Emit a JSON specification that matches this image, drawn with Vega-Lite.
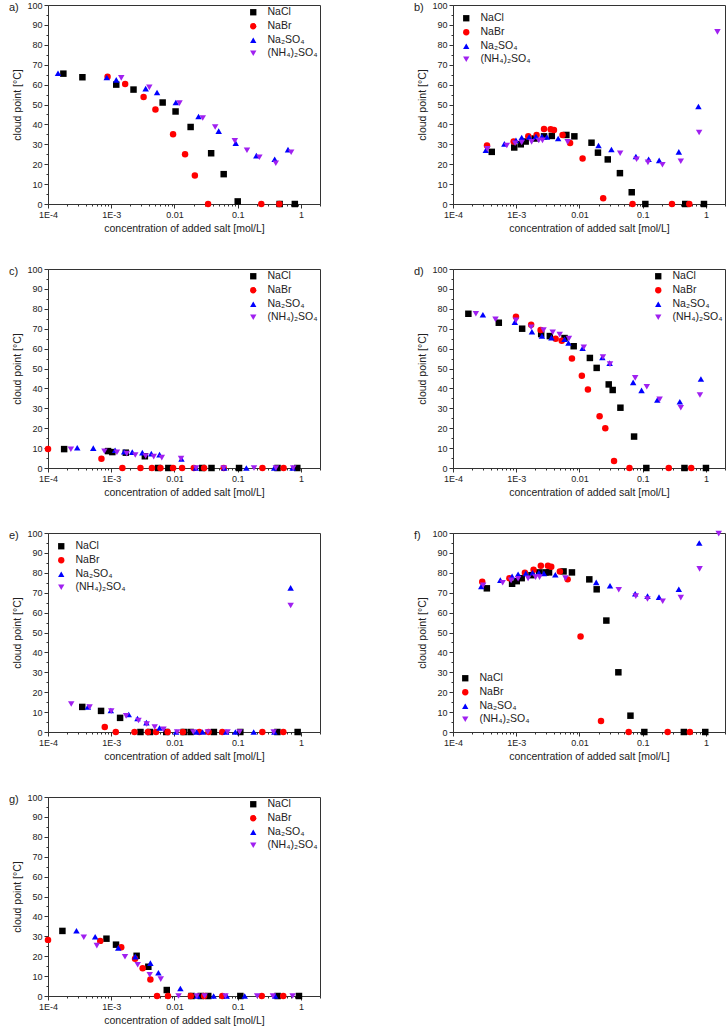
{
"$schema": "https://vega.github.io/schema/vega-lite/v6.json",
"padding": {"left": 8, "top": 0, "right": 2, "bottom": 4},
"config": {
 "view": {"stroke": "#333", "strokeWidth": 1},
 "axis": {"grid": false, "domainColor": "#333", "tickColor": "#333", "labelFont": "Liberation Sans", "titleFont": "Liberation Sans", "labelFontSize": 9, "titleFontSize": 10.5, "titleFontWeight": "normal", "labelColor": "#222", "titleColor": "#222", "tickSize": 4, "labelPadding": 2, "labelFlush": false, "labelOverlap": false, "titlePadding": 4},
 "legend": {"labelFont": "Liberation Sans", "labelFontSize": 10.5, "labelColor": "#222", "symbolSize": 40, "rowPadding": 1, "labelOffset": 9, "title": null},
 "title": {"font": "Liberation Sans", "fontSize": 11, "fontWeight": "normal", "anchor": "start", "frame": "bounds", "offset": -12, "color": "#222", "dx": -4},
 "point": {"filled": true, "opacity": 1, "clip": true, "size": 42}
},
"data": {"values": [
{"p":"a","s":"NaCl","c":0.000175,"t":65.5},{"p":"a","s":"NaCl","c":0.00035,"t":63.7},{"p":"a","s":"NaCl","c":0.0012,"t":60},{"p":"a","s":"NaCl","c":0.00225,"t":57.5},{"p":"a","s":"NaCl","c":0.0065,"t":51},{"p":"a","s":"NaCl","c":0.0104,"t":46.5},{"p":"a","s":"NaCl","c":0.018,"t":38.7},{"p":"a","s":"NaCl","c":0.038,"t":25.5},{"p":"a","s":"NaCl","c":0.06,"t":15},{"p":"a","s":"NaCl","c":0.1,"t":1.3},{"p":"a","s":"NaCl","c":0.46,"t":0},{"p":"a","s":"NaCl","c":0.8,"t":0},
{"p":"a","s":"NaBr","c":0.000875,"t":64},{"p":"a","s":"NaBr","c":0.00166,"t":60.3},{"p":"a","s":"NaBr","c":0.00325,"t":53.8},{"p":"a","s":"NaBr","c":0.005,"t":47.5},{"p":"a","s":"NaBr","c":0.0095,"t":35},{"p":"a","s":"NaBr","c":0.0147,"t":25},{"p":"a","s":"NaBr","c":0.021,"t":14.3},{"p":"a","s":"NaBr","c":0.034,"t":0},{"p":"a","s":"NaBr","c":0.236,"t":0},{"p":"a","s":"NaBr","c":0.455,"t":0},
{"p":"a","s":"Na₂SO₄","c":0.000144,"t":65.7},{"p":"a","s":"Na₂SO₄","c":0.00085,"t":63.6},{"p":"a","s":"Na₂SO₄","c":0.0012,"t":62.4},{"p":"a","s":"Na₂SO₄","c":0.0035,"t":58},{"p":"a","s":"Na₂SO₄","c":0.0053,"t":56},{"p":"a","s":"Na₂SO₄","c":0.0105,"t":51},{"p":"a","s":"Na₂SO₄","c":0.024,"t":44},{"p":"a","s":"Na₂SO₄","c":0.05,"t":36.6},{"p":"a","s":"Na₂SO₄","c":0.093,"t":30.6},{"p":"a","s":"Na₂SO₄","c":0.197,"t":24.3},{"p":"a","s":"Na₂SO₄","c":0.384,"t":22.5},{"p":"a","s":"Na₂SO₄","c":0.624,"t":27.3},
{"p":"a","s":"(NH₄)₂SO₄","c":0.00144,"t":63.4},{"p":"a","s":"(NH₄)₂SO₄","c":0.004,"t":58.6},{"p":"a","s":"(NH₄)₂SO₄","c":0.012,"t":50.7},{"p":"a","s":"(NH₄)₂SO₄","c":0.028,"t":43.2},{"p":"a","s":"(NH₄)₂SO₄","c":0.044,"t":38.7},{"p":"a","s":"(NH₄)₂SO₄","c":0.09,"t":31.7},{"p":"a","s":"(NH₄)₂SO₄","c":0.14,"t":27},{"p":"a","s":"(NH₄)₂SO₄","c":0.22,"t":23.5},{"p":"a","s":"(NH₄)₂SO₄","c":0.4,"t":20.5},{"p":"a","s":"(NH₄)₂SO₄","c":0.7,"t":26},

{"p":"b","s":"NaCl","c":0.00041,"t":26.2},{"p":"b","s":"NaCl","c":0.00093,"t":28.4},{"p":"b","s":"NaCl","c":0.00118,"t":30},{"p":"b","s":"NaCl","c":0.00141,"t":31.4},{"p":"b","s":"NaCl","c":0.00195,"t":32.9},{"p":"b","s":"NaCl","c":0.00275,"t":34},{"p":"b","s":"NaCl","c":0.00365,"t":34.2},{"p":"b","s":"NaCl","c":0.0062,"t":34.7},{"p":"b","s":"NaCl","c":0.0083,"t":34},{"p":"b","s":"NaCl","c":0.0155,"t":30.8},{"p":"b","s":"NaCl","c":0.0196,"t":25.8},{"p":"b","s":"NaCl","c":0.028,"t":22.4},{"p":"b","s":"NaCl","c":0.0436,"t":15.5},{"p":"b","s":"NaCl","c":0.067,"t":5.9},{"p":"b","s":"NaCl","c":0.11,"t":0},{"p":"b","s":"NaCl","c":0.47,"t":0},{"p":"b","s":"NaCl","c":0.93,"t":0},
{"p":"b","s":"NaBr","c":0.000345,"t":29.4},{"p":"b","s":"NaBr","c":0.00091,"t":31.4},{"p":"b","s":"NaBr","c":0.00155,"t":34},{"p":"b","s":"NaBr","c":0.0021,"t":34.7},{"p":"b","s":"NaBr","c":0.00275,"t":37.7},{"p":"b","s":"NaBr","c":0.0035,"t":37.6},{"p":"b","s":"NaBr","c":0.00395,"t":37.2},{"p":"b","s":"NaBr","c":0.0054,"t":34.7},{"p":"b","s":"NaBr","c":0.0071,"t":30.6},{"p":"b","s":"NaBr","c":0.0112,"t":22.9},{"p":"b","s":"NaBr","c":0.0237,"t":2.9},{"p":"b","s":"NaBr","c":0.069,"t":0},{"p":"b","s":"NaBr","c":0.29,"t":0},{"p":"b","s":"NaBr","c":0.545,"t":0},
{"p":"b","s":"Na₂SO₄","c":0.00033,"t":27},{"p":"b","s":"Na₂SO₄","c":0.00065,"t":30.2},{"p":"b","s":"Na₂SO₄","c":0.00099,"t":32},{"p":"b","s":"Na₂SO₄","c":0.00122,"t":33.4},{"p":"b","s":"Na₂SO₄","c":0.0016,"t":33.7},{"p":"b","s":"Na₂SO₄","c":0.00205,"t":33.9},{"p":"b","s":"Na₂SO₄","c":0.00255,"t":33.9},{"p":"b","s":"Na₂SO₄","c":0.00305,"t":33.7},{"p":"b","s":"Na₂SO₄","c":0.0046,"t":32.9},{"p":"b","s":"Na₂SO₄","c":0.02,"t":29.4},{"p":"b","s":"Na₂SO₄","c":0.032,"t":27.4},{"p":"b","s":"Na₂SO₄","c":0.078,"t":23.9},{"p":"b","s":"Na₂SO₄","c":0.124,"t":22.5},{"p":"b","s":"Na₂SO₄","c":0.182,"t":21.9},{"p":"b","s":"Na₂SO₄","c":0.372,"t":26.2},{"p":"b","s":"Na₂SO₄","c":0.76,"t":49},
{"p":"b","s":"(NH₄)₂SO₄","c":0.00035,"t":27.7},{"p":"b","s":"(NH₄)₂SO₄","c":0.00071,"t":29.4},{"p":"b","s":"(NH₄)₂SO₄","c":0.00096,"t":30.5},{"p":"b","s":"(NH₄)₂SO₄","c":0.00122,"t":30.9},{"p":"b","s":"(NH₄)₂SO₄","c":0.00175,"t":31.2},{"p":"b","s":"(NH₄)₂SO₄","c":0.00227,"t":31.9},{"p":"b","s":"(NH₄)₂SO₄","c":0.0026,"t":32},{"p":"b","s":"(NH₄)₂SO₄","c":0.0065,"t":31.2},{"p":"b","s":"(NH₄)₂SO₄","c":0.044,"t":25.5},{"p":"b","s":"(NH₄)₂SO₄","c":0.08,"t":22.5},{"p":"b","s":"(NH₄)₂SO₄","c":0.121,"t":20.9},{"p":"b","s":"(NH₄)₂SO₄","c":0.205,"t":19.7},{"p":"b","s":"(NH₄)₂SO₄","c":0.4,"t":21.5},{"p":"b","s":"(NH₄)₂SO₄","c":0.78,"t":35.9},{"p":"b","s":"(NH₄)₂SO₄","c":1.52,"t":86.5},

{"p":"c","s":"NaCl","c":0.00018,"t":9.5},{"p":"c","s":"NaCl","c":0.00089,"t":8.5},{"p":"c","s":"NaCl","c":0.00104,"t":8},{"p":"c","s":"NaCl","c":0.0017,"t":7.7},{"p":"c","s":"NaCl","c":0.0034,"t":5.9},{"p":"c","s":"NaCl","c":0.0055,"t":0},{"p":"c","s":"NaCl","c":0.008,"t":0},{"p":"c","s":"NaCl","c":0.0274,"t":0},{"p":"c","s":"NaCl","c":0.0385,"t":0},{"p":"c","s":"NaCl","c":0.105,"t":0},{"p":"c","s":"NaCl","c":0.426,"t":0},{"p":"c","s":"NaCl","c":0.875,"t":0},
{"p":"c","s":"NaBr","c":0.0001,"t":9.5},{"p":"c","s":"NaBr","c":0.0007,"t":4.7},{"p":"c","s":"NaBr","c":0.0015,"t":0},{"p":"c","s":"NaBr","c":0.0029,"t":0},{"p":"c","s":"NaBr","c":0.0044,"t":0},{"p":"c","s":"NaBr","c":0.006,"t":0},{"p":"c","s":"NaBr","c":0.0095,"t":0},{"p":"c","s":"NaBr","c":0.0132,"t":0},{"p":"c","s":"NaBr","c":0.0202,"t":0},{"p":"c","s":"NaBr","c":0.0294,"t":0},{"p":"c","s":"NaBr","c":0.06,"t":0},{"p":"c","s":"NaBr","c":0.246,"t":0},{"p":"c","s":"NaBr","c":0.531,"t":0},
{"p":"c","s":"Na₂SO₄","c":0.00029,"t":10.2},{"p":"c","s":"Na₂SO₄","c":0.00052,"t":10},{"p":"c","s":"Na₂SO₄","c":0.00115,"t":8.9},{"p":"c","s":"Na₂SO₄","c":0.0016,"t":8.2},{"p":"c","s":"Na₂SO₄","c":0.00215,"t":8},{"p":"c","s":"Na₂SO₄","c":0.0031,"t":7.7},{"p":"c","s":"Na₂SO₄","c":0.0043,"t":7.2},{"p":"c","s":"Na₂SO₄","c":0.0058,"t":6.7},{"p":"c","s":"Na₂SO₄","c":0.0129,"t":4.5},{"p":"c","s":"Na₂SO₄","c":0.0217,"t":0},{"p":"c","s":"Na₂SO₄","c":0.0613,"t":0},{"p":"c","s":"Na₂SO₄","c":0.137,"t":0},{"p":"c","s":"Na₂SO₄","c":0.377,"t":0},{"p":"c","s":"Na₂SO₄","c":0.738,"t":0},
{"p":"c","s":"(NH₄)₂SO₄","c":0.00023,"t":9.4},{"p":"c","s":"(NH₄)₂SO₄","c":0.00078,"t":8.4},{"p":"c","s":"(NH₄)₂SO₄","c":0.00123,"t":7.9},{"p":"c","s":"(NH₄)₂SO₄","c":0.00176,"t":7.2},{"p":"c","s":"(NH₄)₂SO₄","c":0.0024,"t":6.5},{"p":"c","s":"(NH₄)₂SO₄","c":0.0035,"t":6},{"p":"c","s":"(NH₄)₂SO₄","c":0.0047,"t":5.7},{"p":"c","s":"(NH₄)₂SO₄","c":0.0063,"t":5.2},{"p":"c","s":"(NH₄)₂SO₄","c":0.0127,"t":4.7},{"p":"c","s":"(NH₄)₂SO₄","c":0.022,"t":0},{"p":"c","s":"(NH₄)₂SO₄","c":0.06,"t":0},{"p":"c","s":"(NH₄)₂SO₄","c":0.181,"t":0},{"p":"c","s":"(NH₄)₂SO₄","c":0.401,"t":0},{"p":"c","s":"(NH₄)₂SO₄","c":0.755,"t":0},

{"p":"d","s":"NaCl","c":0.000175,"t":77.5},{"p":"d","s":"NaCl","c":0.00053,"t":73},{"p":"d","s":"NaCl","c":0.00124,"t":70},{"p":"d","s":"NaCl","c":0.00248,"t":67.3},{"p":"d","s":"NaCl","c":0.0034,"t":66.3},{"p":"d","s":"NaCl","c":0.0058,"t":65.3},{"p":"d","s":"NaCl","c":0.0081,"t":61.2},{"p":"d","s":"NaCl","c":0.0146,"t":55.3},{"p":"d","s":"NaCl","c":0.0187,"t":50.3},{"p":"d","s":"NaCl","c":0.029,"t":42},{"p":"d","s":"NaCl","c":0.0335,"t":39.2},{"p":"d","s":"NaCl","c":0.0444,"t":30.3},{"p":"d","s":"NaCl","c":0.073,"t":15.8},{"p":"d","s":"NaCl","c":0.114,"t":0},{"p":"d","s":"NaCl","c":0.457,"t":0},{"p":"d","s":"NaCl","c":1.0,"t":0},
{"p":"d","s":"NaBr","c":0.00099,"t":76},{"p":"d","s":"NaBr","c":0.00172,"t":72},{"p":"d","s":"NaBr","c":0.00243,"t":69.3},{"p":"d","s":"NaBr","c":0.0042,"t":65},{"p":"d","s":"NaBr","c":0.00524,"t":64},{"p":"d","s":"NaBr","c":0.0076,"t":55},{"p":"d","s":"NaBr","c":0.0109,"t":46.3},{"p":"d","s":"NaBr","c":0.0136,"t":39.5},{"p":"d","s":"NaBr","c":0.0208,"t":26},{"p":"d","s":"NaBr","c":0.0256,"t":20},{"p":"d","s":"NaBr","c":0.0352,"t":3.5},{"p":"d","s":"NaBr","c":0.0617,"t":0},{"p":"d","s":"NaBr","c":0.258,"t":0},{"p":"d","s":"NaBr","c":0.585,"t":0},
{"p":"d","s":"Na₂SO₄","c":0.000297,"t":77},{"p":"d","s":"Na₂SO₄","c":0.00095,"t":73.3},{"p":"d","s":"Na₂SO₄","c":0.00177,"t":68.5},{"p":"d","s":"Na₂SO₄","c":0.00255,"t":66.3},{"p":"d","s":"Na₂SO₄","c":0.0036,"t":65.5},{"p":"d","s":"Na₂SO₄","c":0.0058,"t":64.7},{"p":"d","s":"Na₂SO₄","c":0.0067,"t":62.8},{"p":"d","s":"Na₂SO₄","c":0.0112,"t":60.2},{"p":"d","s":"Na₂SO₄","c":0.023,"t":55.5},{"p":"d","s":"Na₂SO₄","c":0.03,"t":52.7},{"p":"d","s":"Na₂SO₄","c":0.0706,"t":43},{"p":"d","s":"Na₂SO₄","c":0.0958,"t":39},{"p":"d","s":"Na₂SO₄","c":0.17,"t":34.2},{"p":"d","s":"Na₂SO₄","c":0.386,"t":33.3},{"p":"d","s":"Na₂SO₄","c":0.832,"t":44.7},
{"p":"d","s":"(NH₄)₂SO₄","c":0.00023,"t":77.5},{"p":"d","s":"(NH₄)₂SO₄","c":0.00047,"t":74.7},{"p":"d","s":"(NH₄)₂SO₄","c":0.00099,"t":74.2},{"p":"d","s":"(NH₄)₂SO₄","c":0.00172,"t":70.7},{"p":"d","s":"(NH₄)₂SO₄","c":0.0027,"t":69.3},{"p":"d","s":"(NH₄)₂SO₄","c":0.00377,"t":68.2},{"p":"d","s":"(NH₄)₂SO₄","c":0.00487,"t":67},{"p":"d","s":"(NH₄)₂SO₄","c":0.0068,"t":65},{"p":"d","s":"(NH₄)₂SO₄","c":0.0117,"t":60.7},{"p":"d","s":"(NH₄)₂SO₄","c":0.0235,"t":55.8},{"p":"d","s":"(NH₄)₂SO₄","c":0.0304,"t":52.2},{"p":"d","s":"(NH₄)₂SO₄","c":0.076,"t":45.3},{"p":"d","s":"(NH₄)₂SO₄","c":0.116,"t":40.8},{"p":"d","s":"(NH₄)₂SO₄","c":0.185,"t":34.5},{"p":"d","s":"(NH₄)₂SO₄","c":0.4,"t":30.3},{"p":"d","s":"(NH₄)₂SO₄","c":0.803,"t":36.7},

{"p":"e","s":"NaCl","c":0.000348,"t":12.6},{"p":"e","s":"NaCl","c":0.00069,"t":10.6},{"p":"e","s":"NaCl","c":0.00138,"t":7.1},{"p":"e","s":"NaCl","c":0.0029,"t":0},{"p":"e","s":"NaCl","c":0.0041,"t":0},{"p":"e","s":"NaCl","c":0.0074,"t":0},{"p":"e","s":"NaCl","c":0.014,"t":0},{"p":"e","s":"NaCl","c":0.018,"t":0},{"p":"e","s":"NaCl","c":0.042,"t":0},{"p":"e","s":"NaCl","c":0.11,"t":0},{"p":"e","s":"NaCl","c":0.424,"t":0},{"p":"e","s":"NaCl","c":0.886,"t":0},
{"p":"e","s":"NaBr","c":0.00079,"t":2.5},{"p":"e","s":"NaBr","c":0.00118,"t":0},{"p":"e","s":"NaBr","c":0.00233,"t":0},{"p":"e","s":"NaBr","c":0.0038,"t":0},{"p":"e","s":"NaBr","c":0.0051,"t":0},{"p":"e","s":"NaBr","c":0.0078,"t":0},{"p":"e","s":"NaBr","c":0.0136,"t":0},{"p":"e","s":"NaBr","c":0.0247,"t":0},{"p":"e","s":"NaBr","c":0.0346,"t":0},{"p":"e","s":"NaBr","c":0.057,"t":0},{"p":"e","s":"NaBr","c":0.245,"t":0},{"p":"e","s":"NaBr","c":0.526,"t":0},
{"p":"e","s":"Na₂SO₄","c":0.000427,"t":12.6},{"p":"e","s":"Na₂SO₄","c":0.000985,"t":10.8},{"p":"e","s":"Na₂SO₄","c":0.00189,"t":8.8},{"p":"e","s":"Na₂SO₄","c":0.0026,"t":6.8},{"p":"e","s":"Na₂SO₄","c":0.0036,"t":4.7},{"p":"e","s":"Na₂SO₄","c":0.0058,"t":2},{"p":"e","s":"Na₂SO₄","c":0.0106,"t":0},{"p":"e","s":"Na₂SO₄","c":0.0224,"t":0},{"p":"e","s":"Na₂SO₄","c":0.0278,"t":0},{"p":"e","s":"Na₂SO₄","c":0.0656,"t":0},{"p":"e","s":"Na₂SO₄","c":0.092,"t":0},{"p":"e","s":"Na₂SO₄","c":0.179,"t":0},{"p":"e","s":"Na₂SO₄","c":0.38,"t":0},{"p":"e","s":"Na₂SO₄","c":0.687,"t":72.4},
{"p":"e","s":"(NH₄)₂SO₄","c":0.000233,"t":14.1},{"p":"e","s":"(NH₄)₂SO₄","c":0.000454,"t":12.5},{"p":"e","s":"(NH₄)₂SO₄","c":0.001,"t":10.5},{"p":"e","s":"(NH₄)₂SO₄","c":0.00172,"t":8.1},{"p":"e","s":"(NH₄)₂SO₄","c":0.0027,"t":5.8},{"p":"e","s":"(NH₄)₂SO₄","c":0.00364,"t":4},{"p":"e","s":"(NH₄)₂SO₄","c":0.00487,"t":2.5},{"p":"e","s":"(NH₄)₂SO₄","c":0.0067,"t":1.3},{"p":"e","s":"(NH₄)₂SO₄","c":0.011,"t":0},{"p":"e","s":"(NH₄)₂SO₄","c":0.0198,"t":0},{"p":"e","s":"(NH₄)₂SO₄","c":0.0337,"t":0},{"p":"e","s":"(NH₄)₂SO₄","c":0.069,"t":0},{"p":"e","s":"(NH₄)₂SO₄","c":0.107,"t":0},{"p":"e","s":"(NH₄)₂SO₄","c":0.37,"t":0},{"p":"e","s":"(NH₄)₂SO₄","c":0.687,"t":63.6},

{"p":"f","s":"NaCl","c":0.000343,"t":72.2},{"p":"f","s":"NaCl","c":0.00086,"t":74.5},{"p":"f","s":"NaCl","c":0.00102,"t":75.8},{"p":"f","s":"NaCl","c":0.00122,"t":77.3},{"p":"f","s":"NaCl","c":0.00174,"t":78.8},{"p":"f","s":"NaCl","c":0.0023,"t":80.2},{"p":"f","s":"NaCl","c":0.0029,"t":80.2},{"p":"f","s":"NaCl","c":0.0033,"t":80.2},{"p":"f","s":"NaCl","c":0.0056,"t":80.7},{"p":"f","s":"NaCl","c":0.0076,"t":80.2},{"p":"f","s":"NaCl","c":0.0143,"t":76.7},{"p":"f","s":"NaCl","c":0.0187,"t":71.7},{"p":"f","s":"NaCl","c":0.0266,"t":56},{"p":"f","s":"NaCl","c":0.0412,"t":30},{"p":"f","s":"NaCl","c":0.064,"t":8.2},{"p":"f","s":"NaCl","c":0.106,"t":0},{"p":"f","s":"NaCl","c":0.447,"t":0},{"p":"f","s":"NaCl","c":0.975,"t":0},
{"p":"f","s":"NaBr","c":0.00029,"t":75.5},{"p":"f","s":"NaBr","c":0.00078,"t":77.3},{"p":"f","s":"NaBr","c":0.00137,"t":80},{"p":"f","s":"NaBr","c":0.00188,"t":81.5},{"p":"f","s":"NaBr","c":0.00245,"t":83.5},{"p":"f","s":"NaBr","c":0.00317,"t":83.5},{"p":"f","s":"NaBr","c":0.00358,"t":83},{"p":"f","s":"NaBr","c":0.0049,"t":80.7},{"p":"f","s":"NaBr","c":0.0065,"t":76.7},{"p":"f","s":"NaBr","c":0.0104,"t":48},{"p":"f","s":"NaBr","c":0.0219,"t":5.5},{"p":"f","s":"NaBr","c":0.06,"t":0},{"p":"f","s":"NaBr","c":0.248,"t":0},{"p":"f","s":"NaBr","c":0.556,"t":0},
{"p":"f","s":"Na₂SO₄","c":0.00028,"t":73.2},{"p":"f","s":"Na₂SO₄","c":0.00056,"t":76.3},{"p":"f","s":"Na₂SO₄","c":0.00086,"t":78.2},{"p":"f","s":"Na₂SO₄","c":0.00107,"t":79.3},{"p":"f","s":"Na₂SO₄","c":0.00142,"t":79.7},{"p":"f","s":"Na₂SO₄","c":0.00181,"t":80},{"p":"f","s":"Na₂SO₄","c":0.00228,"t":80},{"p":"f","s":"Na₂SO₄","c":0.00274,"t":79.7},{"p":"f","s":"Na₂SO₄","c":0.00415,"t":79},{"p":"f","s":"Na₂SO₄","c":0.0184,"t":75.2},{"p":"f","s":"Na₂SO₄","c":0.0304,"t":73.5},{"p":"f","s":"Na₂SO₄","c":0.076,"t":69.5},{"p":"f","s":"Na₂SO₄","c":0.119,"t":68.3},{"p":"f","s":"Na₂SO₄","c":0.181,"t":67.8},{"p":"f","s":"Na₂SO₄","c":0.372,"t":71.7},{"p":"f","s":"Na₂SO₄","c":0.783,"t":95},
{"p":"f","s":"(NH₄)₂SO₄","c":0.0003,"t":73.7},{"p":"f","s":"(NH₄)₂SO₄","c":0.00061,"t":75},{"p":"f","s":"(NH₄)₂SO₄","c":0.00083,"t":76.2},{"p":"f","s":"(NH₄)₂SO₄","c":0.00107,"t":77},{"p":"f","s":"(NH₄)₂SO₄","c":0.00154,"t":77.2},{"p":"f","s":"(NH₄)₂SO₄","c":0.00202,"t":77.8},{"p":"f","s":"(NH₄)₂SO₄","c":0.00234,"t":77.8},{"p":"f","s":"(NH₄)₂SO₄","c":0.006,"t":77.3},{"p":"f","s":"(NH₄)₂SO₄","c":0.0418,"t":71.5},{"p":"f","s":"(NH₄)₂SO₄","c":0.0778,"t":68.3},{"p":"f","s":"(NH₄)₂SO₄","c":0.119,"t":66.8},{"p":"f","s":"(NH₄)₂SO₄","c":0.207,"t":65.7},{"p":"f","s":"(NH₄)₂SO₄","c":0.4,"t":67.5},{"p":"f","s":"(NH₄)₂SO₄","c":0.793,"t":82},{"p":"f","s":"(NH₄)₂SO₄","c":1.59,"t":99.7},

{"p":"g","s":"NaCl","c":0.000169,"t":32.7},{"p":"g","s":"NaCl","c":0.00084,"t":28.8},{"p":"g","s":"NaCl","c":0.00119,"t":25.8},{"p":"g","s":"NaCl","c":0.00252,"t":20.2},{"p":"g","s":"NaCl","c":0.00386,"t":14.7},{"p":"g","s":"NaCl","c":0.00755,"t":3},{"p":"g","s":"NaCl","c":0.0186,"t":0},{"p":"g","s":"NaCl","c":0.026,"t":0},{"p":"g","s":"NaCl","c":0.0342,"t":0},{"p":"g","s":"NaCl","c":0.11,"t":0},{"p":"g","s":"NaCl","c":0.427,"t":0},{"p":"g","s":"NaCl","c":0.93,"t":0},
{"p":"g","s":"NaBr","c":0.0001,"t":28.2},{"p":"g","s":"NaBr","c":0.00067,"t":27.7},{"p":"g","s":"NaBr","c":0.00144,"t":24.5},{"p":"g","s":"NaBr","c":0.00238,"t":18.7},{"p":"g","s":"NaBr","c":0.00314,"t":14},{"p":"g","s":"NaBr","c":0.00416,"t":8.3},{"p":"g","s":"NaBr","c":0.0053,"t":0},{"p":"g","s":"NaBr","c":0.0079,"t":0},{"p":"g","s":"NaBr","c":0.0181,"t":0},{"p":"g","s":"NaBr","c":0.0294,"t":0},{"p":"g","s":"NaBr","c":0.0571,"t":0},{"p":"g","s":"NaBr","c":0.24,"t":0},{"p":"g","s":"NaBr","c":0.525,"t":0},
{"p":"g","s":"Na₂SO₄","c":0.000282,"t":32.8},{"p":"g","s":"Na₂SO₄","c":0.000557,"t":29.8},{"p":"g","s":"Na₂SO₄","c":0.00129,"t":24.2},{"p":"g","s":"Na₂SO₄","c":0.0024,"t":19.8},{"p":"g","s":"Na₂SO₄","c":0.00416,"t":16.5},{"p":"g","s":"Na₂SO₄","c":0.00557,"t":11.7},{"p":"g","s":"Na₂SO₄","c":0.0124,"t":3.8},{"p":"g","s":"Na₂SO₄","c":0.023,"t":0},{"p":"g","s":"Na₂SO₄","c":0.0416,"t":0},{"p":"g","s":"Na₂SO₄","c":0.067,"t":0},{"p":"g","s":"Na₂SO₄","c":0.129,"t":0},{"p":"g","s":"Na₂SO₄","c":0.392,"t":0},
{"p":"g","s":"(NH₄)₂SO₄","c":0.000368,"t":29.5},{"p":"g","s":"(NH₄)₂SO₄","c":0.000592,"t":25.3},{"p":"g","s":"(NH₄)₂SO₄","c":0.00165,"t":19.7},{"p":"g","s":"(NH₄)₂SO₄","c":0.00262,"t":15.7},{"p":"g","s":"(NH₄)₂SO₄","c":0.00406,"t":10.7},{"p":"g","s":"(NH₄)₂SO₄","c":0.00607,"t":8.5},{"p":"g","s":"(NH₄)₂SO₄","c":0.0116,"t":0},{"p":"g","s":"(NH₄)₂SO₄","c":0.0226,"t":0},{"p":"g","s":"(NH₄)₂SO₄","c":0.03,"t":0},{"p":"g","s":"(NH₄)₂SO₄","c":0.064,"t":0},{"p":"g","s":"(NH₄)₂SO₄","c":0.203,"t":0},{"p":"g","s":"(NH₄)₂SO₄","c":0.36,"t":0},{"p":"g","s":"(NH₄)₂SO₄","c":0.738,"t":0}
]},
"columns": 2,
"spacing": {"row": 30, "column": 92},
"resolve": {"scale": {"color": "independent", "shape": "independent"}, "legend": {"color": "independent", "shape": "independent"}},
"concat": [
{"title": "a)", "width": 272, "height": 199, "transform": [{"filter": "datum.p === 'a'"}],
 "mark": "point",
 "encoding": {
  "x": {"field": "c", "type": "quantitative", "scale": {"type": "log", "domain": [0.0001, 2]}, "axis": {"title": "concentration of added salt [mol/L]", "values": [0.0001,0.0002,0.0003,0.0004,0.0005,0.0006,0.0007,0.0008,0.0009,0.001,0.002,0.003,0.004,0.005,0.006,0.007,0.008,0.009,0.01,0.02,0.03,0.04,0.05,0.06,0.07,0.08,0.09,0.1,0.2,0.3,0.4,0.5,0.6,0.7,0.8,0.9,1,2], "labelExpr": "datum.value === 0.0001 ? '1E-4' : datum.value === 0.001 ? '1E-3' : datum.value === 0.01 ? '0.01' : datum.value === 0.1 ? '0.1' : datum.value === 1 ? '1' : ''", "tickSize": {"condition": {"test": "datum.value === 0.0001 || datum.value === 0.001 || datum.value === 0.01 || datum.value === 0.1 || datum.value === 1", "value": 4}, "value": 2}}},
  "y": {"field": "t", "type": "quantitative", "scale": {"domain": [0, 100]}, "axis": {"title": "cloud point [°C]", "values": [0,5,10,15,20,25,30,35,40,45,50,55,60,65,70,75,80,85,90,95,100], "labelExpr": "datum.value % 10 === 0 ? datum.label : ''", "tickSize": {"condition": {"test": "datum.value % 10 === 0", "value": 4}, "value": 2}}},
  "color": {"field": "s", "type": "nominal", "scale": {"domain": ["NaCl","NaBr","Na₂SO₄","(NH₄)₂SO₄"], "range": ["#000000","#ff0000","#0000ff","#a020f0"]}, "legend": {"orient": "top-right", "offset": 2}},
  "shape": {"field": "s", "type": "nominal", "scale": {"domain": ["NaCl","NaBr","Na₂SO₄","(NH₄)₂SO₄"], "range": ["square","circle","triangle-up","triangle-down"]}, "legend": {"orient": "top-right", "offset": 2}}
 }},
{"title": "b)", "width": 272, "height": 199, "transform": [{"filter": "datum.p === 'b'"}],
 "mark": "point",
 "encoding": {
  "x": {"field": "c", "type": "quantitative", "scale": {"type": "log", "domain": [0.0001, 2]}, "axis": {"title": "concentration of added salt [mol/L]", "values": [0.0001,0.0002,0.0003,0.0004,0.0005,0.0006,0.0007,0.0008,0.0009,0.001,0.002,0.003,0.004,0.005,0.006,0.007,0.008,0.009,0.01,0.02,0.03,0.04,0.05,0.06,0.07,0.08,0.09,0.1,0.2,0.3,0.4,0.5,0.6,0.7,0.8,0.9,1,2], "labelExpr": "datum.value === 0.0001 ? '1E-4' : datum.value === 0.001 ? '1E-3' : datum.value === 0.01 ? '0.01' : datum.value === 0.1 ? '0.1' : datum.value === 1 ? '1' : ''", "tickSize": {"condition": {"test": "datum.value === 0.0001 || datum.value === 0.001 || datum.value === 0.01 || datum.value === 0.1 || datum.value === 1", "value": 4}, "value": 2}}},
  "y": {"field": "t", "type": "quantitative", "scale": {"domain": [0, 100]}, "axis": {"title": "cloud point [°C]", "values": [0,5,10,15,20,25,30,35,40,45,50,55,60,65,70,75,80,85,90,95,100], "labelExpr": "datum.value % 10 === 0 ? datum.label : ''", "tickSize": {"condition": {"test": "datum.value % 10 === 0", "value": 4}, "value": 2}}},
  "color": {"field": "s", "type": "nominal", "scale": {"domain": ["NaCl","NaBr","Na₂SO₄","(NH₄)₂SO₄"], "range": ["#000000","#ff0000","#0000ff","#a020f0"]}, "legend": {"orient": "top-left", "offset": 8}},
  "shape": {"field": "s", "type": "nominal", "scale": {"domain": ["NaCl","NaBr","Na₂SO₄","(NH₄)₂SO₄"], "range": ["square","circle","triangle-up","triangle-down"]}, "legend": {"orient": "top-left", "offset": 8}}
 }},
{"title": "c)", "width": 272, "height": 199, "transform": [{"filter": "datum.p === 'c'"}],
 "mark": "point",
 "encoding": {
  "x": {"field": "c", "type": "quantitative", "scale": {"type": "log", "domain": [0.0001, 2]}, "axis": {"title": "concentration of added salt [mol/L]", "values": [0.0001,0.0002,0.0003,0.0004,0.0005,0.0006,0.0007,0.0008,0.0009,0.001,0.002,0.003,0.004,0.005,0.006,0.007,0.008,0.009,0.01,0.02,0.03,0.04,0.05,0.06,0.07,0.08,0.09,0.1,0.2,0.3,0.4,0.5,0.6,0.7,0.8,0.9,1,2], "labelExpr": "datum.value === 0.0001 ? '1E-4' : datum.value === 0.001 ? '1E-3' : datum.value === 0.01 ? '0.01' : datum.value === 0.1 ? '0.1' : datum.value === 1 ? '1' : ''", "tickSize": {"condition": {"test": "datum.value === 0.0001 || datum.value === 0.001 || datum.value === 0.01 || datum.value === 0.1 || datum.value === 1", "value": 4}, "value": 2}}},
  "y": {"field": "t", "type": "quantitative", "scale": {"domain": [0, 100]}, "axis": {"title": "cloud point [°C]", "values": [0,5,10,15,20,25,30,35,40,45,50,55,60,65,70,75,80,85,90,95,100], "labelExpr": "datum.value % 10 === 0 ? datum.label : ''", "tickSize": {"condition": {"test": "datum.value % 10 === 0", "value": 4}, "value": 2}}},
  "color": {"field": "s", "type": "nominal", "scale": {"domain": ["NaCl","NaBr","Na₂SO₄","(NH₄)₂SO₄"], "range": ["#000000","#ff0000","#0000ff","#a020f0"]}, "legend": {"orient": "top-right", "offset": 2}},
  "shape": {"field": "s", "type": "nominal", "scale": {"domain": ["NaCl","NaBr","Na₂SO₄","(NH₄)₂SO₄"], "range": ["square","circle","triangle-up","triangle-down"]}, "legend": {"orient": "top-right", "offset": 2}}
 }},
{"title": "d)", "width": 272, "height": 199, "transform": [{"filter": "datum.p === 'd'"}],
 "mark": "point",
 "encoding": {
  "x": {"field": "c", "type": "quantitative", "scale": {"type": "log", "domain": [0.0001, 2]}, "axis": {"title": "concentration of added salt [mol/L]", "values": [0.0001,0.0002,0.0003,0.0004,0.0005,0.0006,0.0007,0.0008,0.0009,0.001,0.002,0.003,0.004,0.005,0.006,0.007,0.008,0.009,0.01,0.02,0.03,0.04,0.05,0.06,0.07,0.08,0.09,0.1,0.2,0.3,0.4,0.5,0.6,0.7,0.8,0.9,1,2], "labelExpr": "datum.value === 0.0001 ? '1E-4' : datum.value === 0.001 ? '1E-3' : datum.value === 0.01 ? '0.01' : datum.value === 0.1 ? '0.1' : datum.value === 1 ? '1' : ''", "tickSize": {"condition": {"test": "datum.value === 0.0001 || datum.value === 0.001 || datum.value === 0.01 || datum.value === 0.1 || datum.value === 1", "value": 4}, "value": 2}}},
  "y": {"field": "t", "type": "quantitative", "scale": {"domain": [0, 100]}, "axis": {"title": "cloud point [°C]", "values": [0,5,10,15,20,25,30,35,40,45,50,55,60,65,70,75,80,85,90,95,100], "labelExpr": "datum.value % 10 === 0 ? datum.label : ''", "tickSize": {"condition": {"test": "datum.value % 10 === 0", "value": 4}, "value": 2}}},
  "color": {"field": "s", "type": "nominal", "scale": {"domain": ["NaCl","NaBr","Na₂SO₄","(NH₄)₂SO₄"], "range": ["#000000","#ff0000","#0000ff","#a020f0"]}, "legend": {"orient": "top-right", "offset": 2}},
  "shape": {"field": "s", "type": "nominal", "scale": {"domain": ["NaCl","NaBr","Na₂SO₄","(NH₄)₂SO₄"], "range": ["square","circle","triangle-up","triangle-down"]}, "legend": {"orient": "top-right", "offset": 2}}
 }},
{"title": "e)", "width": 272, "height": 199, "transform": [{"filter": "datum.p === 'e'"}],
 "mark": "point",
 "encoding": {
  "x": {"field": "c", "type": "quantitative", "scale": {"type": "log", "domain": [0.0001, 2]}, "axis": {"title": "concentration of added salt [mol/L]", "values": [0.0001,0.0002,0.0003,0.0004,0.0005,0.0006,0.0007,0.0008,0.0009,0.001,0.002,0.003,0.004,0.005,0.006,0.007,0.008,0.009,0.01,0.02,0.03,0.04,0.05,0.06,0.07,0.08,0.09,0.1,0.2,0.3,0.4,0.5,0.6,0.7,0.8,0.9,1,2], "labelExpr": "datum.value === 0.0001 ? '1E-4' : datum.value === 0.001 ? '1E-3' : datum.value === 0.01 ? '0.01' : datum.value === 0.1 ? '0.1' : datum.value === 1 ? '1' : ''", "tickSize": {"condition": {"test": "datum.value === 0.0001 || datum.value === 0.001 || datum.value === 0.01 || datum.value === 0.1 || datum.value === 1", "value": 4}, "value": 2}}},
  "y": {"field": "t", "type": "quantitative", "scale": {"domain": [0, 100]}, "axis": {"title": "cloud point [°C]", "values": [0,5,10,15,20,25,30,35,40,45,50,55,60,65,70,75,80,85,90,95,100], "labelExpr": "datum.value % 10 === 0 ? datum.label : ''", "tickSize": {"condition": {"test": "datum.value % 10 === 0", "value": 4}, "value": 2}}},
  "color": {"field": "s", "type": "nominal", "scale": {"domain": ["NaCl","NaBr","Na₂SO₄","(NH₄)₂SO₄"], "range": ["#000000","#ff0000","#0000ff","#a020f0"]}, "legend": {"orient": "top-left", "offset": 8}},
  "shape": {"field": "s", "type": "nominal", "scale": {"domain": ["NaCl","NaBr","Na₂SO₄","(NH₄)₂SO₄"], "range": ["square","circle","triangle-up","triangle-down"]}, "legend": {"orient": "top-left", "offset": 8}}
 }},
{"title": "f)", "width": 272, "height": 199, "transform": [{"filter": "datum.p === 'f'"}],
 "mark": "point",
 "encoding": {
  "x": {"field": "c", "type": "quantitative", "scale": {"type": "log", "domain": [0.0001, 2]}, "axis": {"title": "concentration of added salt [mol/L]", "values": [0.0001,0.0002,0.0003,0.0004,0.0005,0.0006,0.0007,0.0008,0.0009,0.001,0.002,0.003,0.004,0.005,0.006,0.007,0.008,0.009,0.01,0.02,0.03,0.04,0.05,0.06,0.07,0.08,0.09,0.1,0.2,0.3,0.4,0.5,0.6,0.7,0.8,0.9,1,2], "labelExpr": "datum.value === 0.0001 ? '1E-4' : datum.value === 0.001 ? '1E-3' : datum.value === 0.01 ? '0.01' : datum.value === 0.1 ? '0.1' : datum.value === 1 ? '1' : ''", "tickSize": {"condition": {"test": "datum.value === 0.0001 || datum.value === 0.001 || datum.value === 0.01 || datum.value === 0.1 || datum.value === 1", "value": 4}, "value": 2}}},
  "y": {"field": "t", "type": "quantitative", "scale": {"domain": [0, 100]}, "axis": {"title": "cloud point [°C]", "values": [0,5,10,15,20,25,30,35,40,45,50,55,60,65,70,75,80,85,90,95,100], "labelExpr": "datum.value % 10 === 0 ? datum.label : ''", "tickSize": {"condition": {"test": "datum.value % 10 === 0", "value": 4}, "value": 2}}},
  "color": {"field": "s", "type": "nominal", "scale": {"domain": ["NaCl","NaBr","Na₂SO₄","(NH₄)₂SO₄"], "range": ["#000000","#ff0000","#0000ff","#a020f0"]}, "legend": {"orient": "bottom-left", "offset": 7}},
  "shape": {"field": "s", "type": "nominal", "scale": {"domain": ["NaCl","NaBr","Na₂SO₄","(NH₄)₂SO₄"], "range": ["square","circle","triangle-up","triangle-down"]}, "legend": {"orient": "bottom-left", "offset": 7}}
 }},
{"title": "g)", "width": 272, "height": 199, "transform": [{"filter": "datum.p === 'g'"}],
 "mark": "point",
 "encoding": {
  "x": {"field": "c", "type": "quantitative", "scale": {"type": "log", "domain": [0.0001, 2]}, "axis": {"title": "concentration of added salt [mol/L]", "values": [0.0001,0.0002,0.0003,0.0004,0.0005,0.0006,0.0007,0.0008,0.0009,0.001,0.002,0.003,0.004,0.005,0.006,0.007,0.008,0.009,0.01,0.02,0.03,0.04,0.05,0.06,0.07,0.08,0.09,0.1,0.2,0.3,0.4,0.5,0.6,0.7,0.8,0.9,1,2], "labelExpr": "datum.value === 0.0001 ? '1E-4' : datum.value === 0.001 ? '1E-3' : datum.value === 0.01 ? '0.01' : datum.value === 0.1 ? '0.1' : datum.value === 1 ? '1' : ''", "tickSize": {"condition": {"test": "datum.value === 0.0001 || datum.value === 0.001 || datum.value === 0.01 || datum.value === 0.1 || datum.value === 1", "value": 4}, "value": 2}}},
  "y": {"field": "t", "type": "quantitative", "scale": {"domain": [0, 100]}, "axis": {"title": "cloud point [°C]", "values": [0,5,10,15,20,25,30,35,40,45,50,55,60,65,70,75,80,85,90,95,100], "labelExpr": "datum.value % 10 === 0 ? datum.label : ''", "tickSize": {"condition": {"test": "datum.value % 10 === 0", "value": 4}, "value": 2}}},
  "color": {"field": "s", "type": "nominal", "scale": {"domain": ["NaCl","NaBr","Na₂SO₄","(NH₄)₂SO₄"], "range": ["#000000","#ff0000","#0000ff","#a020f0"]}, "legend": {"orient": "top-right", "offset": 2}},
  "shape": {"field": "s", "type": "nominal", "scale": {"domain": ["NaCl","NaBr","Na₂SO₄","(NH₄)₂SO₄"], "range": ["square","circle","triangle-up","triangle-down"]}, "legend": {"orient": "top-right", "offset": 2}}
 }}
]
}
